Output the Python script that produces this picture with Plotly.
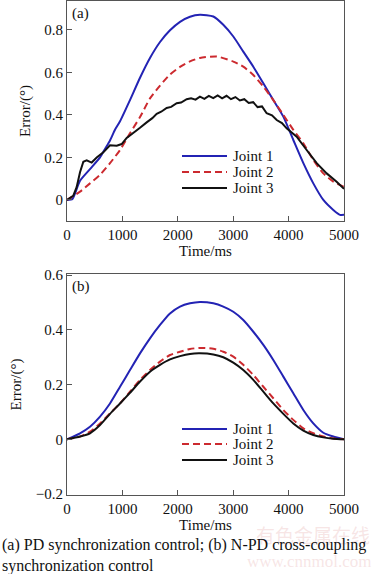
import plotly.graph_objects as go

# ---------- data: panel (a) PD synchronization control ----------
a_j1_t = [0, 100, 144, 235, 415, 596, 686, 776, 866, 957, 1137, 1318, 1498, 1679, 1859, 2040, 2220, 2400,
          2641, 2821, 3002, 3182, 3363, 3544, 3724, 3905, 4085, 4266, 4446, 4627, 4807, 4928, 5000]
a_j1_v = [0, 0.005, 0.03, 0.09, 0.145, 0.2, 0.24, 0.28, 0.33, 0.37, 0.47, 0.575, 0.668, 0.743, 0.798, 0.838, 0.862, 0.871,
          0.863, 0.824, 0.769, 0.698, 0.627, 0.549, 0.47, 0.392, 0.282, 0.173, 0.078, 0.0, -0.047, -0.07, -0.07]

a_j2_t = [0, 235, 415, 596, 776, 957, 1137, 1318, 1498, 1679, 1859, 2040, 2220, 2400, 2701,
          3002, 3182, 3363, 3544, 3724, 3905, 4085, 4266, 4446, 4627, 4807, 5000]
a_j2_v = [0, 0.039, 0.078, 0.118, 0.173, 0.235, 0.314, 0.39, 0.478, 0.538, 0.59, 0.626, 0.652, 0.668, 0.675,
          0.651, 0.627, 0.588, 0.533, 0.47, 0.4, 0.33, 0.267, 0.188, 0.125, 0.086, 0.062]

a_j3_t = [0, 114, 174, 235, 295, 355, 445, 536, 656, 776, 897, 987, 1077, 1197, 1318, 1438, 1540, 1619, 1700, 1799,
          1880, 1980, 2060, 2160, 2240, 2320, 2400, 2480, 2560, 2640, 2720, 2800, 2880, 2960, 3040, 3120,
          3200, 3280, 3360, 3440, 3520, 3604, 3700, 3785, 3880, 3965, 4146, 4326, 4507, 4687, 4867, 5000]
a_j3_v = [0, 0.02, 0.06, 0.13, 0.18, 0.186, 0.176, 0.2, 0.224, 0.257, 0.255, 0.263, 0.292, 0.314, 0.34, 0.365, 0.385, 0.405, 0.415, 0.433,
          0.438, 0.455, 0.458, 0.474, 0.478, 0.472, 0.486, 0.476, 0.49, 0.479, 0.492, 0.478, 0.49, 0.474, 0.484, 0.468,
          0.474, 0.456, 0.46, 0.437, 0.44, 0.408, 0.398, 0.376, 0.362, 0.337, 0.298, 0.235, 0.173, 0.125, 0.086, 0.052]

# ---------- data: panel (b) N-PD cross-coupling synchronization control ----------
b_t = [0, 235, 415, 596, 776, 957, 1137, 1318, 1498, 1679, 1859, 2040, 2220, 2400,
       2641, 2821, 3002, 3182, 3363, 3544, 3724, 3905, 4085, 4266, 4446, 4627, 4807, 5000]
b_j1_v = [0, 0.022, 0.046, 0.083, 0.131, 0.192, 0.253, 0.314, 0.369, 0.418, 0.46, 0.485, 0.497, 0.502,
          0.497, 0.485, 0.466, 0.436, 0.393, 0.345, 0.29, 0.229, 0.168, 0.107, 0.058, 0.024, 0.01, 0.0]
b_j2_v = [0, 0.01, 0.028, 0.058, 0.095, 0.131, 0.174, 0.217, 0.253, 0.284, 0.308, 0.32, 0.33, 0.334,
          0.331, 0.32, 0.302, 0.272, 0.235, 0.192, 0.15, 0.107, 0.071, 0.04, 0.022, 0.01, 0.003, 0.0]
b_j3_v = [0, 0.01, 0.022, 0.052, 0.093, 0.131, 0.17, 0.211, 0.247, 0.272, 0.292, 0.304, 0.312, 0.314,
          0.31, 0.3, 0.28, 0.253, 0.217, 0.174, 0.131, 0.093, 0.058, 0.032, 0.016, 0.007, 0.002, 0.0]

names = ["Joint 1", "Joint 2", "Joint 3"]
x_ticks = [0, 1000, 2000, 3000, 4000, 5000]
a_yticks = [0, 0.2, 0.4, 0.6, 0.8]
a_yticklabels = ["0", "0.2", "0.4", "0.6", "0.8"]
b_yticks = [-0.2, 0, 0.2, 0.4, 0.6]
b_yticklabels = ["\u22120.2", "0", "0.2", "0.4", "0.6"]

BLUE = "#2323b4"
RED = "#cc2a2f"
BLACK = "#111111"
FONT = "Liberation Serif"
W, H = 379, 574

fig = go.Figure()
styles = [dict(color=BLUE, width=2), dict(color=RED, width=2, dash="7px,4px"), dict(color=BLACK, width=2)]
shapes_ = ["spline", "spline", "linear"]

for (t, v), nm, st, sh in zip([(a_j1_t, a_j1_v), (a_j2_t, a_j2_v), (a_j3_t, a_j3_v)], names, styles, shapes_):
    fig.add_trace(go.Scatter(x=t, y=v, mode="lines", name=nm, line=dict(shape=sh, smoothing=0.6, **st),
                             xaxis="x", yaxis="y", showlegend=False))
for v, nm, st in zip([b_j1_v, b_j2_v, b_j3_v], names, styles):
    fig.add_trace(go.Scatter(x=b_t, y=v, mode="lines", name=nm, line=dict(shape="spline", smoothing=0.6, **st),
                             xaxis="x2", yaxis="y2", showlegend=False))

axis_common = dict(showline=True, linecolor="#555555", linewidth=1, mirror=True, automargin=False,
                   ticks="inside", ticklen=5, tickcolor="#555555", showgrid=False, zeroline=False,
                   tickfont=dict(family=FONT, size=15, color="#111"))

xd = [67 / W, 344 / W]
fig.update_layout(
    width=W, height=H, margin=dict(l=0, r=0, t=0, b=0),
    paper_bgcolor="white", plot_bgcolor="white",
    font=dict(family=FONT, size=15, color="#111"),
    showlegend=False,
    xaxis=dict(domain=xd, anchor="y", range=[0, 5000], tickvals=x_ticks,
               title=dict(text="Time/ms", standoff=0, font=dict(family=FONT, size=15)), **axis_common),
    yaxis=dict(domain=[1 - 221 / H, 1 - 1 / H], anchor="x", range=[-0.099, 0.936],
               tickvals=a_yticks, ticktext=a_yticklabels,
               title=dict(text="Error/(°)", standoff=10, font=dict(family=FONT, size=15)), **axis_common),
    xaxis2=dict(domain=xd, anchor="y2", range=[0, 5000], tickvals=x_ticks,
                title=dict(text="Time/ms", standoff=0, font=dict(family=FONT, size=15)), **axis_common),
    yaxis2=dict(domain=[1 - 495 / H, 1 - 274 / H], anchor="x2", range=[-0.2035, 0.604],
                tickvals=b_yticks, ticktext=b_yticklabels,
                title=dict(text="Error/(°)", standoff=10, font=dict(family=FONT, size=15)), **axis_common),
)

# manual legends (compact row spacing as in the reference)
legend_rows = {"a": [156, 172, 188], "b": [429, 444, 460]}
for key in ["a", "b"]:
    for yy, nm, st in zip(legend_rows[key], names, styles):
        fig.add_shape(type="line", xref="paper", yref="paper", x0=182 / W, x1=227 / W,
                      y0=1 - yy / H, y1=1 - yy / H, line=st)
        fig.add_annotation(x=231 / W, y=1 - yy / H, xref="paper", yref="paper", text=nm, showarrow=False,
                           xanchor="left", yanchor="middle", font=dict(family=FONT, size=15, color="#111"))

fig.add_annotation(x=70 / W, y=1 - 3 / H, xref="paper", yref="paper", text="(a)", showarrow=False,
                   xanchor="left", yanchor="top", font=dict(family=FONT, size=15, color="#111"))
fig.add_annotation(x=70 / W, y=1 - 276 / H, xref="paper", yref="paper", text="(b)", showarrow=False,
                   xanchor="left", yanchor="top", font=dict(family=FONT, size=15, color="#111"))

# faint watermark
fig.add_annotation(x=372 / W, y=1 - 519 / H, xref="paper", yref="paper", text="有色金属在线",
                   showarrow=False, xanchor="right", yanchor="top",
                   font=dict(family="Noto Sans CJK SC", size=19, color="rgba(232,180,180,0.35)"))
fig.add_annotation(x=374 / W, y=1 - 573 / H, xref="paper", yref="paper", text="www.cnnmol.com",
                   showarrow=False, xanchor="right", yanchor="bottom",
                   font=dict(family=FONT, size=17, color="rgba(232,180,180,0.35)"))

# caption
fig.add_annotation(x=0, y=1 - 534 / H, xref="paper", yref="paper",
                   text="(a) PD synchronization control; (b) N-PD cross-coupling<br>synchronization control",
                   showarrow=False, xanchor="left", yanchor="top", align="left",
                   font=dict(family=FONT, size=16, color="#111"))

fig.write_html("out.html", config={"displayModeBar": False},
               post_script="document.body.style.margin='0';document.body.style.overflow='hidden';")
